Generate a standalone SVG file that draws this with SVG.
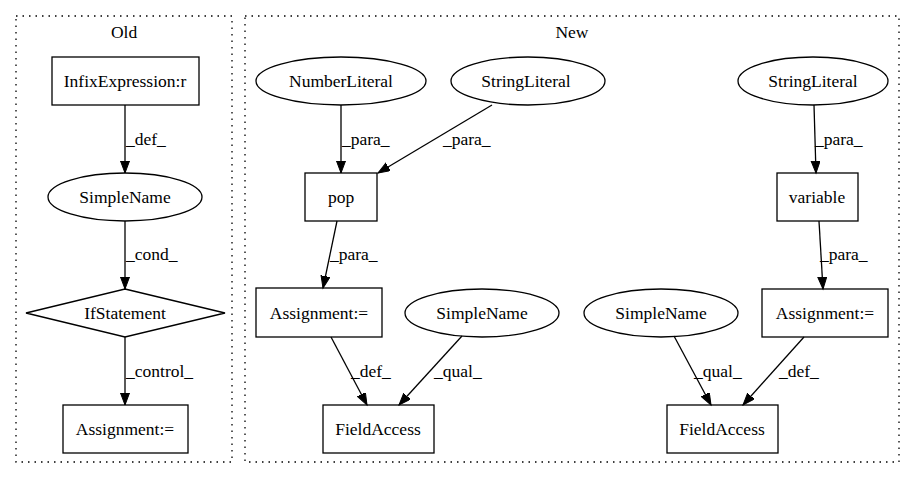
<svg xmlns="http://www.w3.org/2000/svg" width="915" height="480" viewBox="0 0 915 480">
<style>
text{font-family:"Liberation Serif","Times New Roman",serif;font-size:17.5px;fill:#000}
.n{text-anchor:middle}
.shape{fill:none;stroke:#000;stroke-width:1.3}
.cluster{fill:none;stroke:#000;stroke-width:1.3;stroke-dasharray:1.5,5}
.e{fill:none;stroke:#000;stroke-width:1.3;marker-end:url(#arr)}
</style>
<defs>
<marker id="arr" markerUnits="userSpaceOnUse" markerWidth="14" markerHeight="10" refX="12" refY="4.5" orient="auto">
<path d="M0,0 L12,4.5 L0,9 z" fill="#000" stroke="#000" stroke-width="1"/>
</marker>
</defs>
<rect width="915" height="480" fill="#fff"/>
<g id="cluster_old">
<rect class="cluster" x="16" y="16" width="216" height="446"/>
<text class="n" x="124" y="38">Old</text>
</g>
<g id="cluster_new">
<rect class="cluster" x="245" y="16" width="654" height="446"/>
<text class="n" x="572" y="38">New</text>
</g>
<g id="connectors">
<line class="e" x1="125" y1="105" x2="125" y2="173"/>
<text x="126" y="145">_def_</text>
<line class="e" x1="125" y1="221" x2="125" y2="289"/>
<text x="126" y="260">_cond_</text>
<line class="e" x1="125" y1="337" x2="125" y2="405"/>
<text x="126" y="377">_control_</text>
<line class="e" x1="341" y1="105" x2="341" y2="173"/>
<text x="342" y="145">_para_</text>
<line class="e" x1="492" y1="105" x2="378" y2="173"/>
<text x="443" y="145">_para_</text>
<line class="e" x1="337" y1="221" x2="323" y2="288"/>
<text x="330" y="260">_para_</text>
<line class="e" x1="331" y1="337" x2="367" y2="405"/>
<text x="351" y="377">_def_</text>
<line class="e" x1="462" y1="336" x2="399" y2="405"/>
<text x="434" y="377">_qual_</text>
<line class="e" x1="814" y1="105" x2="816" y2="173"/>
<text x="815" y="145">_para_</text>
<line class="e" x1="819" y1="221" x2="823" y2="289"/>
<text x="820" y="260">_para_</text>
<line class="e" x1="674" y1="336" x2="711" y2="405"/>
<text x="694" y="377">_qual_</text>
<line class="e" x1="804" y1="337" x2="743" y2="405"/>
<text x="779" y="377">_def_</text>
</g>
<g id="old_infix">
<rect class="shape" x="52" y="57" width="147" height="48"/>
<text class="n" x="125" y="87">InfixExpression:r</text>
</g>
<g id="old_simplename">
<ellipse class="shape" cx="125" cy="197" rx="77" ry="24"/>
<text class="n" x="125" y="203">SimpleName</text>
</g>
<g id="old_if">
<polygon class="shape" points="125,289 225,313 125,337 26,313"/>
<text class="n" x="125" y="319">IfStatement</text>
</g>
<g id="old_assign">
<rect class="shape" x="63" y="405" width="125" height="48"/>
<text class="n" x="125" y="435">Assignment:=</text>
</g>
<g id="new_number">
<ellipse class="shape" cx="341" cy="81" rx="85" ry="24"/>
<text class="n" x="341" y="87">NumberLiteral</text>
</g>
<g id="new_string1">
<ellipse class="shape" cx="528" cy="81" rx="77" ry="24"/>
<text class="n" x="526" y="87">StringLiteral</text>
</g>
<g id="new_pop">
<rect class="shape" x="305" y="173" width="72" height="48"/>
<text class="n" x="341" y="203">pop</text>
</g>
<g id="new_assign1">
<rect class="shape" x="256" y="288" width="126" height="49"/>
<text class="n" x="319" y="319">Assignment:=</text>
</g>
<g id="new_simplename1">
<ellipse class="shape" cx="482" cy="313" rx="77" ry="24"/>
<text class="n" x="482" y="319">SimpleName</text>
</g>
<g id="new_field1">
<rect class="shape" x="323" y="405" width="111" height="48"/>
<text class="n" x="378" y="435">FieldAccess</text>
</g>
<g id="new_string2">
<ellipse class="shape" cx="813" cy="81" rx="75" ry="24"/>
<text class="n" x="813" y="87">StringLiteral</text>
</g>
<g id="new_variable">
<rect class="shape" x="777" y="173" width="81" height="48"/>
<text class="n" x="817" y="203">variable</text>
</g>
<g id="new_assign2">
<rect class="shape" x="762" y="289" width="126" height="48"/>
<text class="n" x="825" y="319">Assignment:=</text>
</g>
<g id="new_simplename2">
<ellipse class="shape" cx="661" cy="313" rx="77" ry="24"/>
<text class="n" x="661" y="319">SimpleName</text>
</g>
<g id="new_field2">
<rect class="shape" x="667" y="405" width="111" height="48"/>
<text class="n" x="722" y="435">FieldAccess</text>
</g>
</svg>
